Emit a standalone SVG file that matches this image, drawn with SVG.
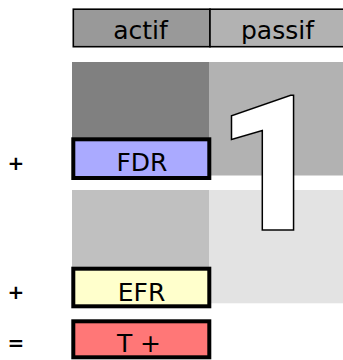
<svg xmlns="http://www.w3.org/2000/svg" width="343" height="360" viewBox="0 0 343 360">
  <style>
    .lbl { font-family: "DejaVu Sans", "Liberation Sans", sans-serif; font-size: 25px; fill: #000; text-anchor: middle; }
    .op { font-family: "DejaVu Sans", "Liberation Sans", sans-serif; font-size: 20px; font-weight: bold; fill: #000; text-anchor: middle; }
    .box { stroke: #000; stroke-width: 4; }
    .hdr { stroke: #000; stroke-width: 1.6; }
    .big { font-family: Roboto, "Open Sans", sans-serif; font-weight: 900; font-size: 190px; fill: #ffffff; stroke: #000; stroke-width: 1.5; }
  </style>
  <rect width="343" height="360" fill="#ffffff"/>
  <g id="header">
    <rect class="hdr" x="73.3" y="9.2" width="136.7" height="37.5" fill="#999999"/>
    <rect class="hdr" x="210" y="9.2" width="140" height="37.5" fill="#b2b2b2"/>
    <text class="lbl" x="140.5" y="39">actif</text>
    <text class="lbl" x="277.5" y="39">passif</text>
  </g>
  <g id="blocks">
    <rect x="72" y="62" width="137" height="80" fill="#808080"/>
    <rect x="209" y="62" width="134" height="113.5" fill="#b2b2b2"/>
    <rect x="72" y="190" width="137" height="80" fill="#c0c0c0"/>
    <rect x="209" y="190" width="134" height="113.3" fill="#e3e3e3"/>
  </g>
  <g id="big-one">
    <text class="big" x="216" y="230">1</text>
  </g>
  <g id="FDR">
    <rect class="box" x="73.3" y="139.3" width="136" height="38.7" fill="#aaaaff"/>
    <text class="lbl" x="142" y="171">FDR</text>
  </g>
  <g id="EFR">
    <rect class="box" x="73.3" y="268.7" width="136" height="37.6" fill="#ffffcc"/>
    <text class="lbl" x="141.5" y="301">EFR</text>
  </g>
  <g id="Tplus">
    <rect class="box" x="73.3" y="321.3" width="136" height="36" fill="#ff7777"/>
    <text class="lbl" x="139" y="352">T +</text>
  </g>
  <g id="operators">
    <text class="op" x="16" y="170">+</text>
    <text class="op" x="16" y="299">+</text>
    <text class="op" x="16" y="350">=</text>
  </g>
</svg>
